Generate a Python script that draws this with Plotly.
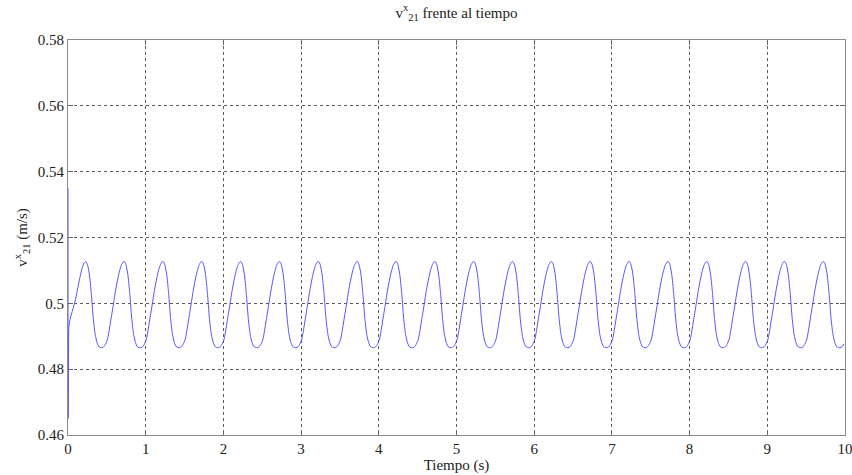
import plotly.graph_objects as go
import numpy as np

# Initial transient (time s, velocity m/s), up to first trough
t_init = [0.0, 0.002, 0.004, 0.007, 0.012, 0.03, 0.06, 0.09, 0.12, 0.15, 0.18, 0.205, 0.225, 0.25, 0.275, 0.30, 0.325, 0.35, 0.375, 0.40]
v_init = [0.535, 0.465, 0.470, 0.485, 0.4930, 0.4955, 0.4980, 0.5005, 0.5040, 0.5075, 0.5105, 0.5122, 0.5127, 0.5118, 0.5088, 0.5030, 0.4955, 0.4905, 0.4880, 0.4868]

# One observed cycle, sampled by phase after each trough (s)
cycle_phase = [0.000, 0.025, 0.050, 0.075, 0.100, 0.125, 0.150, 0.175, 0.200, 0.225,
               0.250, 0.275, 0.290, 0.310, 0.335, 0.360, 0.385, 0.410, 0.435, 0.460]
cycle_value = [0.4865, 0.4868, 0.4877, 0.4892, 0.4925, 0.4962, 0.4998, 0.5036, 0.5068, 0.5095,
               0.5115, 0.5126, 0.5127, 0.5118, 0.5088, 0.5030, 0.4955, 0.4905, 0.4880, 0.4868]

# Trough times
trough_times = [0.435, 0.935, 1.435, 1.935, 2.435, 2.935, 3.435, 3.935, 4.435, 4.935,
                5.435, 5.935, 6.435, 6.935, 7.435, 7.935, 8.435, 8.935, 9.435, 9.935]

x_ticks = [0, 1, 2, 3, 4, 5, 6, 7, 8, 9, 10]
y_ticks = [0.46, 0.48, 0.50, 0.52, 0.54, 0.56, 0.58]
y_ticktext = ["0.46", "0.48", "0.5", "0.52", "0.54", "0.56", "0.58"]

t = list(t_init)
v = list(v_init)
for tr in trough_times:
    for ph, val in zip(cycle_phase, cycle_value):
        tt = tr + ph
        if tt <= 10.0:
            t.append(tt)
            v.append(val)

font_family = "Times New Roman"

fig = go.Figure()
fig.add_trace(go.Scatter(x=t, y=v, mode="lines",
                         line=dict(color="#5555ff", width=1, shape="spline", smoothing=0.6),
                         hoverinfo="skip", showlegend=False))

axis_common = dict(
    showline=True, linecolor="#8a8a8a", linewidth=1, mirror="ticks",
    ticks="inside", ticklen=5, tickcolor="#666666", tickwidth=1,
    showgrid=True, gridcolor="rgba(50,50,50,0.8)", griddash="dot", gridwidth=1,
    zeroline=False, automargin=False, ticklabeloverflow="allow",
    tickfont=dict(family=font_family, size=15, color="#222222"),
)

fig.update_layout(
    width=852, height=475,
    margin=dict(l=68, r=7, t=40, b=40),
    paper_bgcolor="white", plot_bgcolor="white",
    title=dict(text="v<sup>x</sup><sub>21</sub> frente al tiempo",
               x=0.5, xref="paper", xanchor="center", y=0.985, yanchor="top",
               font=dict(family=font_family, size=15, color="#222222")),
    xaxis=dict(range=[0, 10], tickvals=x_ticks, ticktext=[str(k) for k in x_ticks],
               title=dict(text="Tiempo (s)", standoff=0,
                          font=dict(family=font_family, size=15, color="#222222")),
               **axis_common),
    yaxis=dict(range=[0.46, 0.58], tickvals=y_ticks, ticktext=y_ticktext,
               title=dict(text="v<sup>x</sup><sub>21</sub> (m/s)", standoff=6,
                          font=dict(family=font_family, size=15, color="#222222")),
               **axis_common),
)

fig.write_html("out.html")
